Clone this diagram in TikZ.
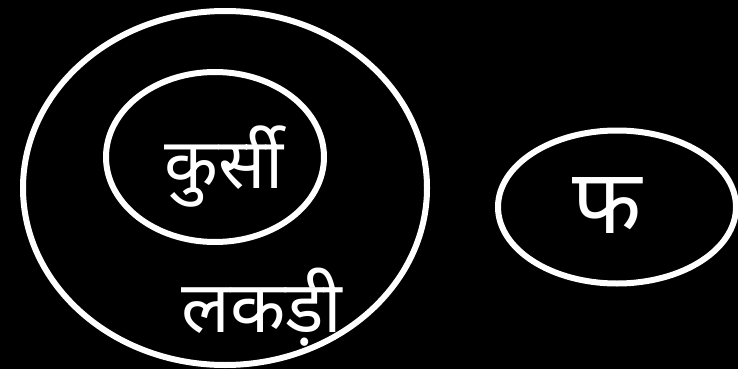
\documentclass[tikz,border=0pt]{standalone}
\usepackage{fontspec}
\usetikzlibrary{shapes.geometric}
\newfontfamily\deva[Script=Devanagari]{Noto Sans}
\begin{document}
\begin{tikzpicture}[x=1pt,y=-1pt,
  ring/.style={draw=white,line width=6pt},
  lbl/.style={text=white,font=\deva\fontsize{70}{80}\selectfont,inner sep=0pt}]
\fill[black] (0,0) rectangle (738,369);
\useasboundingbox (0,0) rectangle (738,369);
\node[ring,ellipse,minimum width=404pt,minimum height=354pt,inner sep=0pt] (outer) at (225,188) {};
\node[ring,ellipse,minimum width=218pt,minimum height=170pt,inner sep=0pt] (inner) at (215,157) {};
\node[ring,ellipse,minimum width=238pt,minimum height=153pt,inner sep=0pt] (right) at (617,207) {};
\node[lbl] (kursi) at (224,167) {कुर्सी};
\node[lbl,font=\deva\fontsize{72}{80}\selectfont] (lakdi) at (262,307) {लकड़ी};
\node[lbl,font=\deva\fontsize{90}{95}\selectfont] (pha) at (607,206) {फ};
\end{tikzpicture}
\end{document}
